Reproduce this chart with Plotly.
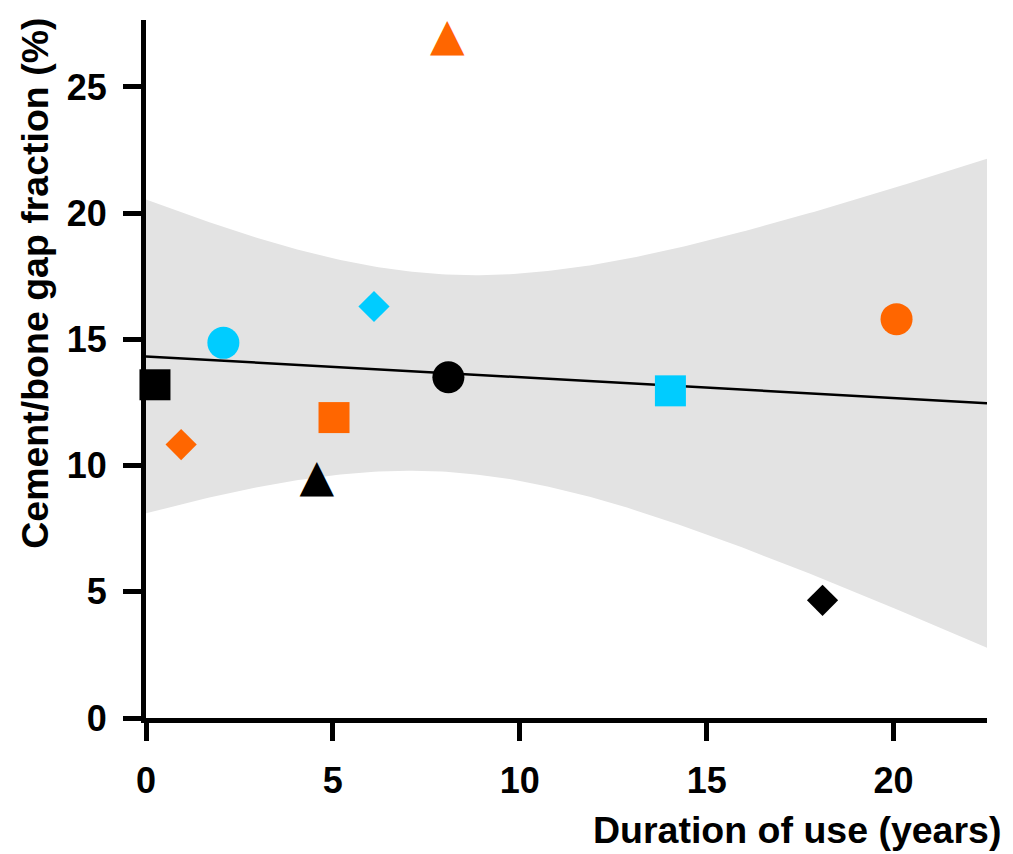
import numpy as np
import plotly.graph_objects as go

# Data
duration = [0.24, 0.94, 2.07, 4.57, 5.03, 6.10, 8.06, 8.09, 14.03, 18.10, 20.08]
gap_fraction = [13.2, 10.83, 14.86, 9.45, 11.9, 16.3, 26.9, 13.5, 12.96, 4.66, 15.8]
colors = ["black", "#FF6600", "#00CCFF", "black", "#FF6600", "#00CCFF",
          "#FF6600", "black", "#00CCFF", "black", "#FF6600"]
shapes = ["square", "diamond", "circle", "triangle", "square", "diamond",
          "triangle", "circle", "square", "diamond", "circle"]
x_ticks = [0, 5, 10, 15, 20]
y_ticks = [0, 5, 10, 15, 20, 25]

X_MAX = 22.5
Y_MAX = 27.65

# Ordinary least squares fit with 95% confidence band of the mean
x = np.array(duration)
y = np.array(gap_fraction)
n = len(x)
slope, intercept = np.polyfit(x, y, 1)
resid = y - (intercept + slope * x)
s = np.sqrt(np.sum(resid ** 2) / (n - 2))
t_crit = 2.262  # t(0.975, df=9)
xg = np.linspace(0, X_MAX, 200)
yg = intercept + slope * xg
half = t_crit * s * np.sqrt(1.0 / n + (xg - x.mean()) ** 2 / np.sum((x - x.mean()) ** 2))
upper = yg + half
lower = yg - half

fig = go.Figure()
fig.add_trace(go.Scatter(x=xg, y=upper, mode="lines", line=dict(width=0),
                         hoverinfo="skip", showlegend=False))
fig.add_trace(go.Scatter(x=xg, y=lower, mode="lines", line=dict(width=0),
                         fill="tonexty", fillcolor="#E3E3E3",
                         hoverinfo="skip", showlegend=False))
fig.add_trace(go.Scatter(x=[0, X_MAX], y=[intercept, intercept + slope * X_MAX],
                         mode="lines", line=dict(color="black", width=2.5),
                         showlegend=False))

size_map = {"square": 31, "circle": 32, "diamond": 24}
for shp in ["square", "circle", "diamond"]:
    idx = [i for i, sh in enumerate(shapes) if sh == shp]
    fig.add_trace(go.Scatter(
        x=[duration[i] for i in idx], y=[gap_fraction[i] for i in idx],
        mode="markers", cliponaxis=False, showlegend=False,
        marker=dict(symbol=shp, size=size_map[shp],
                    color=[colors[i] for i in idx], line=dict(width=0))))

# triangles drawn as glyphs to keep equilateral proportions
idx = [i for i, sh in enumerate(shapes) if sh == "triangle"]
fig.add_trace(go.Scatter(
    x=[duration[i] for i in idx], y=[gap_fraction[i] for i in idx],
    mode="text", text=["▲"] * len(idx), textposition="middle center",
    cliponaxis=False, showlegend=False,
    textfont=dict(family="DejaVu Sans", size=45, color=[colors[i] for i in idx])))

axis_common = dict(showline=True, linecolor="black", linewidth=5,
                   ticks="outside", ticklen=18, tickwidth=5, tickcolor="black",
                   showgrid=False, zeroline=False,
                   tickfont=dict(family="Liberation Sans", size=36, color="black", weight="bold"))

fig.update_layout(
    width=1005, height=846,
    margin=dict(l=138, r=26, t=12, b=136),
    paper_bgcolor="white", plot_bgcolor="white",
    xaxis=dict(range=[0, X_MAX], tickvals=x_ticks, ticklabelstandoff=9, **axis_common),
    yaxis=dict(range=[0, Y_MAX], tickvals=y_ticks, ticklabelstandoff=9, **axis_common),
    annotations=[
        dict(text="Cement/bone gap fraction (%)", textangle=-90,
             xref="paper", yref="paper", x=-0.132, y=0.6235,
             xanchor="center", yanchor="middle", showarrow=False,
             font=dict(family="Liberation Sans", size=37.5, color="black", weight="bold")),
        dict(text="Duration of use (years)",
             xref="paper", yref="paper", x=1.0185, y=-0.1605,
             xanchor="right", yanchor="middle", showarrow=False,
             font=dict(family="Liberation Sans", size=37.5, color="black", weight="bold")),
    ],
)

fig.write_html("out.html")
